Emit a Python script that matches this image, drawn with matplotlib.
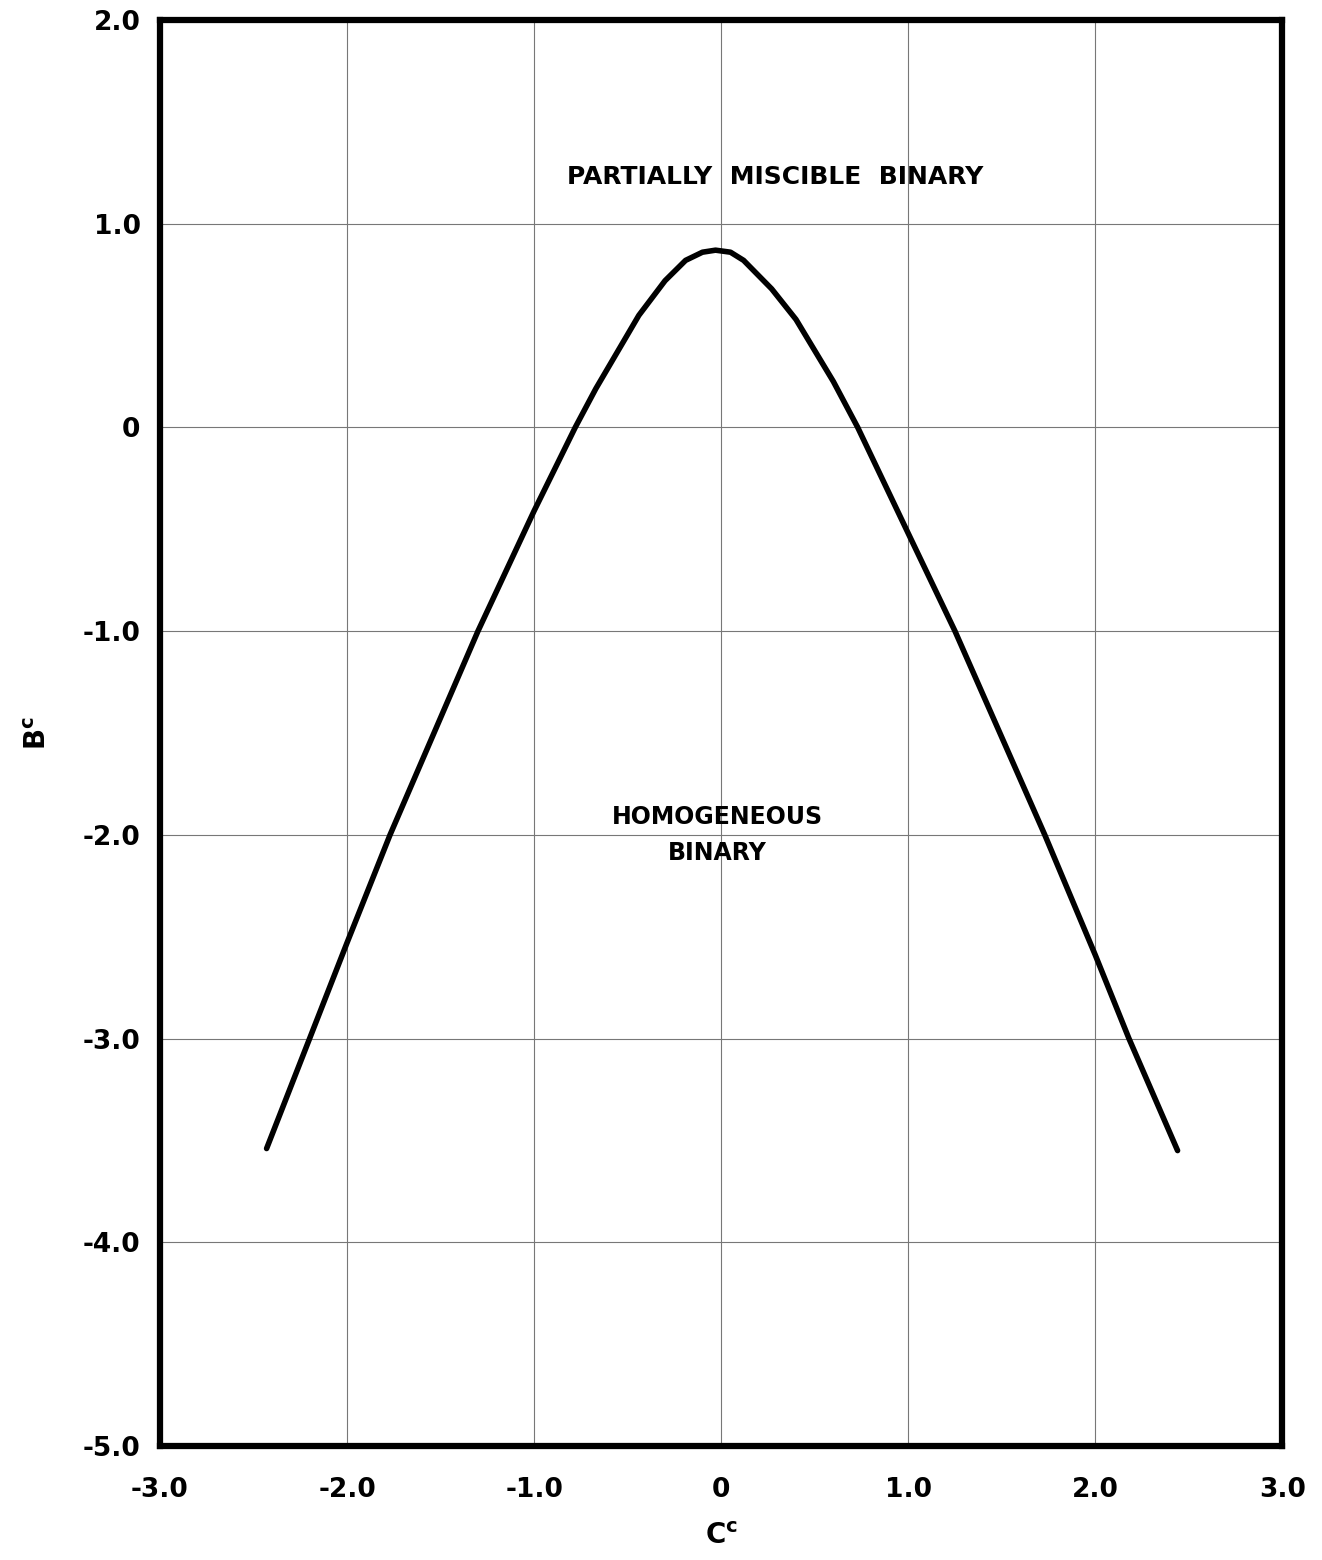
import matplotlib
matplotlib.use("Agg")
import matplotlib.pyplot as plt

# critical-line locus in the (C^c, B^c) plane
cc = [-2.43, -2.20, -2.00, -1.77, -1.30, -1.00, -0.78, -0.67, -0.44, -0.30,
      -0.19, -0.10, -0.03, 0.05, 0.12, 0.27, 0.40, 0.60, 0.73, 1.00,
      1.25, 1.73, 2.00, 2.18, 2.44]
bc = [-3.54, -3.00, -2.53, -2.00, -1.00, -0.41, 0.00, 0.19, 0.55, 0.72,
      0.82, 0.86, 0.87, 0.86, 0.82, 0.68, 0.53, 0.225, 0.00, -0.52,
      -1.00, -2.00, -2.59, -3.00, -3.55]

x_ticks = [-3, -2, -1, 0, 1, 2, 3]
x_tick_labels = ["-3.0", "-2.0", "-1.0", "0", "1.0", "2.0", "3.0"]
y_ticks = [2, 1, 0, -1, -2, -3, -4, -5]
y_tick_labels = ["2.0", "1.0", "0", "-1.0", "-2.0", "-3.0", "-4.0", "-5.0"]

plt.rcParams["font.family"] = ["DejaVu Sans"]

fig = plt.figure(figsize=(13.22, 15.60), dpi=100)
ax = fig.add_axes([0.121, 0.0731, 0.849, 0.9141])

ax.plot(cc, bc, color="black", linewidth=4.0, solid_joinstyle="round",
        solid_capstyle="round", zorder=3)

ax.set_xlim(-3, 3)
ax.set_ylim(-5, 2)
ax.set_xticks(x_ticks)
ax.set_xticklabels(x_tick_labels, fontsize=19, fontweight="bold")
ax.set_yticks(y_ticks)
ax.set_yticklabels(y_tick_labels, fontsize=19, fontweight="bold")
ax.tick_params(length=0, pad=14)
ax.tick_params(axis="x", pad=22)

ax.grid(True, color="#777777", linewidth=0.8)
ax.set_axisbelow(True)
for side in ax.spines.values():
    side.set_linewidth(4.5)
    side.set_color("black")

ax.text(0.29, 1.23, "PARTIALLY  MISCIBLE  BINARY",
        ha="center", va="center", fontsize=18, fontweight="bold")
ax.text(-0.02, -2.0, "HOMOGENEOUS\nBINARY", ha="center", va="center",
        fontsize=17, fontweight="bold", linespacing=1.6)

ax.set_xlabel(r"C$^{\mathbf{c}}$", fontsize=20, fontweight="bold", labelpad=14)
ax.set_ylabel(r"B$^{\mathbf{c}}$", fontsize=20, fontweight="bold", labelpad=22)

fig.savefig("out.png", dpi=100)
